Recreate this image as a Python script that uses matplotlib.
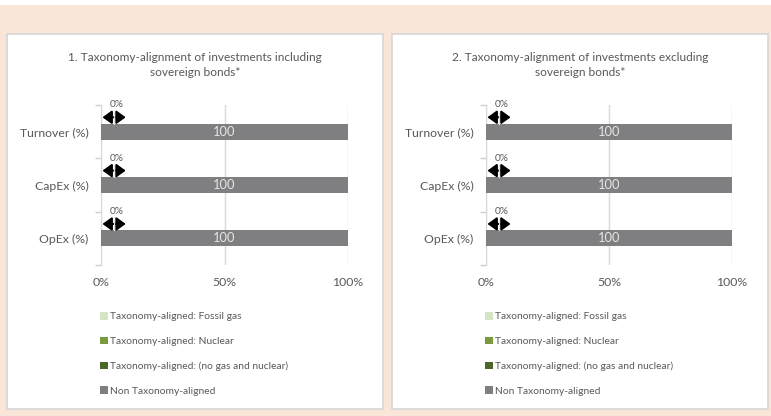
import numpy as np
import matplotlib.pyplot as plt
from matplotlib.patches import Rectangle

# data
categories = ["Turnover (%)", "CapEx (%)", "OpEx (%)"]
series_names = ["Taxonomy-aligned: Fossil gas", "Taxonomy-aligned: Nuclear",
                "Taxonomy-aligned: (no gas and nuclear)", "Non Taxonomy-aligned"]
incl_fossil = [0, 0, 0]
incl_nuclear = [0, 0, 0]
incl_other = [0, 0, 0]
incl_non = [100, 100, 100]
excl_fossil = [0, 0, 0]
excl_nuclear = [0, 0, 0]
excl_other = [0, 0, 0]
excl_non = [100, 100, 100]
titles = ["1. Taxonomy-alignment of investments including\nsovereign bonds*",
          "2. Taxonomy-alignment of investments excluding\nsovereign bonds*"]
x_ticks = [0, 50, 100]
x_ticklabels = ["0%", "50%", "100%"]

colors = ["#d5e5c3", "#7a9a3c", "#4a6628", "#7f7f81"]
txt = "#595959"
W, H = 771, 416

plt.rcParams['font.family'] = ['Lato', 'DejaVu Sans']

fig = plt.figure(figsize=(W / 100, H / 100), dpi=100)
fig.patch.set_facecolor("white")


def px(x0, y0, x1, y1):
    # pixel box (top-left origin) -> figure fraction
    return [x0 / W, 1 - y1 / H, (x1 - x0) / W, (y1 - y0) / H]


# peach background and white panels
fig.patches.append(Rectangle((0, 0), 1, 1 - 5 / H, transform=fig.transFigure,
                             facecolor="#fae6d8", edgecolor="none", zorder=-10))
panels = [(7, 34, 383, 409), (392, 34, 768, 409)]
for (x0, y0, x1, y1) in panels:
    b = px(x0, y0, x1, y1)
    fig.patches.append(Rectangle((b[0], b[1]), b[2], b[3], transform=fig.transFigure,
                                 facecolor="white", edgecolor="#d6d6d6", lw=1.2, zorder=-5))

data = [[incl_fossil, incl_nuclear, incl_other, incl_non],
        [excl_fossil, excl_nuclear, excl_other, excl_non]]
axes_px = [(101, 105, 348, 265), (486, 105, 732, 265)]

for i in range(2):
    ax = fig.add_axes(px(*axes_px[i]))
    ax.set_facecolor("none")
    y = np.arange(len(categories))
    left = np.zeros(len(categories))
    handles = []
    for vals, name, c in zip(data[i], series_names, colors):
        h = ax.barh(y, vals, left=left, height=0.3, color=c, label=name, zorder=3)
        handles.append(h)
        left = left + np.array(vals)
    # bar value labels
    for yy, v in zip(y, data[i][3]):
        ax.text(left[yy] - v / 2, yy, f"{v}",
                ha="center", va="center", color="#e6e6e6", fontsize=9.3, zorder=4)
    # "0%" callouts for the aligned share
    for yy in y:
        aligned = data[i][0][yy] + data[i][1][yy] + data[i][2][yy]
        ya = yy - 0.27
        ax.annotate("", xy=(aligned + 0.6, ya), xytext=(aligned + 10, ya),
                    arrowprops=dict(arrowstyle="<|-|>,head_length=0.55,head_width=0.4",
                                    color="black", lw=1.5, shrinkA=0, shrinkB=0),
                    zorder=5)
        ax.plot([aligned + 5.3, aligned + 5.3], [ya - 0.1, yy - 0.15], color="#e0e0e0",
                lw=0.9, zorder=6)
        ax.text(aligned + 6.2, ya - 0.15, f"{aligned}%", ha="center", va="bottom",
                color=txt, fontsize=7.3, zorder=5)
    ax.set_xlim(0, 100)
    ax.set_ylim(2.5, -0.5)
    ax.set_yticks(y)
    ax.set_yticklabels(categories)
    ax.set_yticks([-0.5, 0.5, 1.5, 2.5], minor=True)
    ax.tick_params(axis="y", which="major", length=0, pad=9, labelsize=8.8, labelcolor=txt)
    ax.tick_params(axis="y", which="minor", length=4, color="#d0d0d0", width=1)
    ax.set_xticks(x_ticks)
    ax.set_xticklabels(x_ticklabels)
    ax.tick_params(axis="x", length=0, pad=9, labelsize=8.8, labelcolor=txt)
    ax.grid(axis="x", color="#d9d9d9", lw=1, zorder=0)
    for s in ["top", "right", "bottom"]:
        ax.spines[s].set_visible(False)
    ax.spines["left"].set_color("#d0d0d0")
    ax.spines["left"].set_zorder(1)

    cx = (panels[i][0] + panels[i][2]) / 2 / W
    fig.text(cx, 1 - 52 / H, titles[i], ha="center", va="top", fontsize=8.6,
             color=txt, linespacing=1.5)

    leg = ax.legend(handles=handles, loc="upper left",
                    bbox_to_anchor=((axes_px[i][0] - 1) / W, 1 - 312 / H),
                    bbox_transform=fig.transFigure, frameon=False,
                    handlelength=0.75, handleheight=0.75, handletextpad=0.2,
                    labelspacing=1.5, fontsize=7.4, borderaxespad=0, borderpad=0)
    for t in leg.get_texts():
        t.set_color(txt)

fig.savefig("out.png", dpi=100)
